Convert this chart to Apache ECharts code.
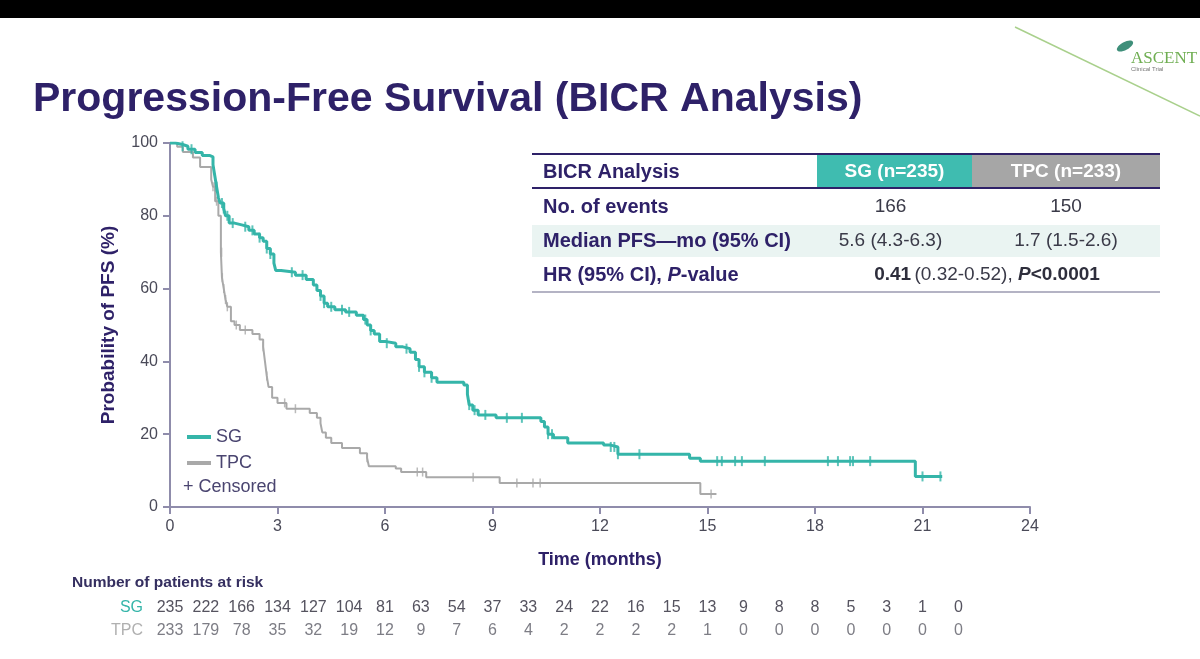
<!DOCTYPE html>
<html>
<head>
<meta charset="utf-8">
<script src="https://cdn.jsdelivr.net/npm/echarts@6/dist/echarts.min.js"></script>
<style>
  html, body { margin: 0; padding: 0; background: #fff; }
  #chart { width: 1200px; height: 659px; }
</style>
</head>
<body>
<div id="chart"></div>
<script>
// KM step points [month, % progression-free]
var sgCurve = [
    [0, 100], [0.15, 99.6], [0.35, 99.1], [0.5, 98.3], [0.7, 97.4], [0.9, 96.6], [1.1, 96.2],
    [1.2, 94], [1.25, 91], [1.3, 88], [1.35, 85], [1.4, 83.5], [1.5, 82], [1.55, 80], [1.65, 78],
    [1.8, 77.5], [2.0, 77], [2.2, 76], [2.35, 75], [2.5, 74], [2.6, 73], [2.7, 71], [2.8, 69.5],
    [2.9, 67], [2.95, 65], [3.1, 64.5], [3.5, 63.7], [3.8, 62.5], [4.0, 61], [4.1, 59.5], [4.2, 58],
    [4.3, 56], [4.4, 55], [4.6, 54.2], [4.9, 53.6], [5.2, 52.7], [5.4, 51.5], [5.5, 50], [5.6, 48.5],
    [5.7, 47.5], [5.85, 45.5], [6.0, 45], [6.3, 44], [6.5, 43.5], [6.7, 42.5], [6.85, 40.5],
    [6.95, 38.5], [7.1, 37], [7.3, 35.5], [7.45, 34.3], [8.2, 33.5], [8.3, 31], [8.35, 28],
    [8.45, 26.6], [8.6, 25.3], [9.1, 24.5], [10.35, 23.5], [10.45, 22], [10.55, 20], [10.7, 19],
    [11.1, 17.6], [12.1, 17], [12.3, 16.5], [12.5, 14.5], [14.5, 13.4], [14.8, 12.6], [20.8, 8.4],
    [21.55, 8.4]
];
var tpcCurve = [
    [0, 100], [0.2, 99], [0.36, 97.5], [0.64, 96], [0.84, 93.4], [1.15, 90], [1.2, 88], [1.26, 84],
    [1.35, 80], [1.42, 70], [1.45, 63], [1.5, 60], [1.55, 57], [1.6, 55], [1.7, 51], [1.8, 50],
    [1.95, 48.6], [2.3, 47.5], [2.5, 46], [2.6, 44], [2.65, 40], [2.7, 36], [2.75, 33], [2.85, 30],
    [3.0, 28.6], [3.25, 27], [3.9, 25.8], [4.1, 24.5], [4.2, 23], [4.25, 20.5], [4.35, 19],
    [4.5, 17.6], [4.8, 16.2], [5.3, 14.8], [5.5, 13.5], [5.55, 11.2], [6.3, 10.6], [6.45, 9.6],
    [7.15, 8.2], [9.2, 6.6], [14.8, 3.6], [15.25, 3.6]
];
// censoring times (months)
var sgCensored = [0.35, 0.6, 1.3, 1.45, 1.5, 1.6, 1.75, 2.1, 2.3, 2.5, 2.7, 2.8, 3.4, 3.7, 4.2,
    4.3, 4.5, 4.8, 5.0, 5.45, 5.6, 6.05, 6.6, 6.95, 7.1, 7.3, 8.35, 8.5, 8.8, 9.4, 9.82, 10.55,
    10.66, 12.3, 12.4, 12.5, 13.1, 15.27, 15.4, 15.77, 15.96, 16.6, 18.36, 18.64, 18.98, 19.06,
    19.54, 21.0, 21.5];
var tpcCensored = [1.2, 1.25, 1.3, 1.42, 1.44, 1.46, 1.5, 1.55, 1.6, 1.85, 2.1, 2.6, 2.7, 3.2,
    3.5, 5.5, 6.9, 7.05, 8.46, 9.68, 10.13, 10.33, 15.1];

var riskMonths = [0, 1, 2, 3, 4, 5, 6, 7, 8, 9, 10, 11, 12, 13, 14, 15, 16, 17, 18, 19, 20, 21, 22];
var sgRisk = [235, 222, 166, 134, 127, 104, 81, 63, 54, 37, 33, 24, 22, 16, 15, 13, 9, 8, 8, 5, 3, 1, 0];
var tpcRisk = [233, 179, 78, 35, 32, 19, 12, 9, 7, 6, 4, 2, 2, 2, 2, 1, 0, 0, 0, 0, 0, 0, 0];

var tableRows = [
    ['No. of events', '166', '150'],
    ['Median PFS\u2014mo (95% CI)', '5.6 (4.3-6.3)', '1.7 (1.5-2.6)']
];

var TEAL = '#35b5a9';
var GREY = '#a9a9a9';
var INK = '#2e2168';
var FONT = 'Liberation Sans, Arial';

// value of a step curve at time t
function survAt(curve, t) {
    var v = curve[0][1];
    for (var i = 0; i < curve.length; i++) {
        if (curve[i][0] <= t) v = curve[i][1];
    }
    return v;
}
function censorPoints(curve, times) {
    return times.map(function (t) { return [t, survAt(curve, t)]; });
}

var chart = echarts.init(document.getElementById('chart'));
chart.setOption({
    backgroundColor: '#ffffff',
    animation: false,
    title: {
        text: 'Progression-Free Survival (BICR Analysis)',
        left: 28,
        top: 74,
        textStyle: { fontFamily: FONT, fontSize: 41, fontWeight: 'bold', color: INK }
    },
    grid: { left: 170, right: 170, top: 143, bottom: 152 },
    legend: {
        orient: 'vertical',
        left: 182,
        top: 423,
        itemGap: 8,
        itemWidth: 24,
        itemHeight: 4,
        icon: 'rect',
        data: ['SG', 'TPC'],
        textStyle: { fontFamily: FONT, fontSize: 18, color: '#4a4570' }
    },
    xAxis: {
        type: 'value', min: 0, max: 24, interval: 3,
        name: 'Time (months)', nameLocation: 'middle', nameGap: 44,
        nameTextStyle: { fontFamily: FONT, fontSize: 18, fontWeight: 'bold', color: INK },
        axisLine: { lineStyle: { color: '#8f8cab', width: 2 } },
        axisTick: { length: 7, lineStyle: { color: '#8f8cab', width: 2 } },
        axisLabel: { fontFamily: FONT, fontSize: 16, color: '#4a4a58', margin: 12 },
        splitLine: { show: false }
    },
    yAxis: {
        type: 'value', min: 0, max: 100, interval: 20,
        name: 'Probability of PFS (%)', nameLocation: 'middle', nameGap: 52,
        nameTextStyle: { fontFamily: FONT, fontSize: 19, fontWeight: 'bold', color: INK },
        axisLine: { show: true, lineStyle: { color: '#8f8cab', width: 2 } },
        axisTick: { show: true, length: 7, lineStyle: { color: '#8f8cab', width: 2 } },
        axisLabel: { fontFamily: FONT, fontSize: 16, color: '#4a4a58', margin: 12 },
        splitLine: { show: false }
    },
    series: [
        {
            name: 'TPC', type: 'line', step: 'end', showSymbol: false, z: 2,
            data: tpcCurve, color: GREY,
            lineStyle: { color: GREY, width: 2 }
        },
        {
            name: 'SG', type: 'line', step: 'end', showSymbol: false, z: 3,
            data: sgCurve, color: TEAL,
            lineStyle: { color: TEAL, width: 3 }
        },
        {
            name: 'TPC censored', type: 'scatter', symbol: 'rect', symbolSize: [1.5, 9], z: 2,
            data: censorPoints(tpcCurve, tpcCensored),
            itemStyle: { color: GREY }
        },
        {
            name: 'SG censored', type: 'scatter', symbol: 'rect', symbolSize: [2, 10], z: 3,
            data: censorPoints(sgCurve, sgCensored),
            itemStyle: { color: TEAL }
        }
    ]
});

// graphics: slide bar, logo, table, censored key, risk table
var g = [];
g.push({ type: 'rect', shape: { x: 0, y: 0, width: 1200, height: 18 }, style: { fill: '#000' } });
g.push({ type: 'line', shape: { x1: 1015, y1: 27, x2: 1200, y2: 116 }, style: { stroke: '#a9d08c', lineWidth: 1.5 } });
g.push({ type: 'ellipse', shape: { cx: 1125, cy: 46, rx: 9, ry: 4 }, rotation: 0.5, originX: 1125, originY: 46, style: { fill: '#3f8f7a' } });
g.push({ type: 'text', x: 1131, y: 50, style: { text: 'ASCENT', font: '17px Liberation Serif, serif', fill: '#6fae52' } });
g.push({ type: 'text', x: 1131, y: 66, style: { text: 'Clinical Trial', font: '6px Liberation Sans, Arial', fill: '#777' } });

g.push({ type: 'text', x: 183, y: 478, style: { text: '+ Censored', font: '18px ' + FONT, fill: '#4a4570' } });

// results table
var tL = 532, tR = 1160, c1 = 817, c2 = 972;
g.push({ type: 'rect', shape: { x: c1, y: 155, width: c2 - c1, height: 33 }, style: { fill: '#3fbcb0' } });
g.push({ type: 'rect', shape: { x: c2, y: 155, width: tR - c2, height: 33 }, style: { fill: '#a6a6a6' } });
g.push({ type: 'rect', shape: { x: tL, y: 225, width: tR - tL, height: 32 }, style: { fill: '#eaf4f2' } });
g.push({ type: 'line', shape: { x1: tL, y1: 154, x2: tR, y2: 154 }, style: { stroke: INK, lineWidth: 2 } });
g.push({ type: 'line', shape: { x1: tL, y1: 188, x2: tR, y2: 188 }, style: { stroke: INK, lineWidth: 2 } });
g.push({ type: 'line', shape: { x1: tL, y1: 292, x2: tR, y2: 292 }, style: { stroke: '#b4b3c4', lineWidth: 2 } });
var boldT = 'bold 20px ' + FONT;
var regT = '19px ' + FONT;
g.push({ type: 'text', x: 543, y: 172, style: { text: 'BICR Analysis', font: boldT, fill: INK, verticalAlign: 'middle' } });
g.push({ type: 'text', x: (c1 + c2) / 2, y: 172, style: { text: 'SG (n=235)', font: 'bold 19px ' + FONT, fill: '#fff', align: 'center', verticalAlign: 'middle' } });
g.push({ type: 'text', x: (c2 + tR) / 2, y: 172, style: { text: 'TPC (n=233)', font: 'bold 19px ' + FONT, fill: '#fff', align: 'center', verticalAlign: 'middle' } });
tableRows.forEach(function (row, i) {
    var y = 207 + i * 34;
    g.push({ type: 'text', x: 543, y: y, style: { text: row[0], font: boldT, fill: INK, verticalAlign: 'middle' } });
    g.push({ type: 'text', x: (c1 + c2) / 2 - 4, y: y, style: { text: row[1], font: regT, fill: '#3a3a48', align: 'center', verticalAlign: 'middle' } });
    g.push({ type: 'text', x: (c2 + tR) / 2, y: y, style: { text: row[2], font: regT, fill: '#3a3a48', align: 'center', verticalAlign: 'middle' } });
});
g.push({ type: 'text', x: 543, y: 275, style: {
    text: '{b|HR (95% CI), }{bi|P}{b|-value}', verticalAlign: 'middle',
    rich: {
        b: { font: boldT, fill: INK },
        bi: { font: 'italic ' + boldT, fill: INK }
    }
} });
g.push({ type: 'text', x: 987, y: 275, style: {
    text: '{b|0.41} {r|(0.32-0.52), }{bi|P}{b|<0.0001}', align: 'center', verticalAlign: 'middle',
    rich: {
        b: { font: 'bold 19px ' + FONT, fill: '#2e2e3c' },
        r: { font: regT, fill: '#3a3a48' },
        bi: { font: 'italic bold 19px ' + FONT, fill: '#2e2e3c' }
    }
} });

// number at risk, centred on the months of the time axis
g.push({ type: 'text', x: 72, y: 583, style: { text: 'Number of patients at risk', font: 'bold 15.5px ' + FONT, fill: '#352f60', verticalAlign: 'middle' } });
g.push({ type: 'text', x: 143, y: 608, style: { text: 'SG', font: '16px ' + FONT, fill: TEAL, align: 'right', verticalAlign: 'middle' } });
g.push({ type: 'text', x: 143, y: 631, style: { text: 'TPC', font: '16px ' + FONT, fill: '#b0b0b0', align: 'right', verticalAlign: 'middle' } });
riskMonths.forEach(function (m, i) {
    var px = chart.convertToPixel({ xAxisIndex: 0 }, m);
    g.push({ type: 'text', x: px, y: 608, style: { text: String(sgRisk[i]), font: '16px ' + FONT, fill: '#55535f', align: 'center', verticalAlign: 'middle' } });
    g.push({ type: 'text', x: px, y: 631, style: { text: String(tpcRisk[i]), font: '16px ' + FONT, fill: '#7d7d85', align: 'center', verticalAlign: 'middle' } });
});

chart.setOption({ graphic: g });
</script>
</body>
</html>
